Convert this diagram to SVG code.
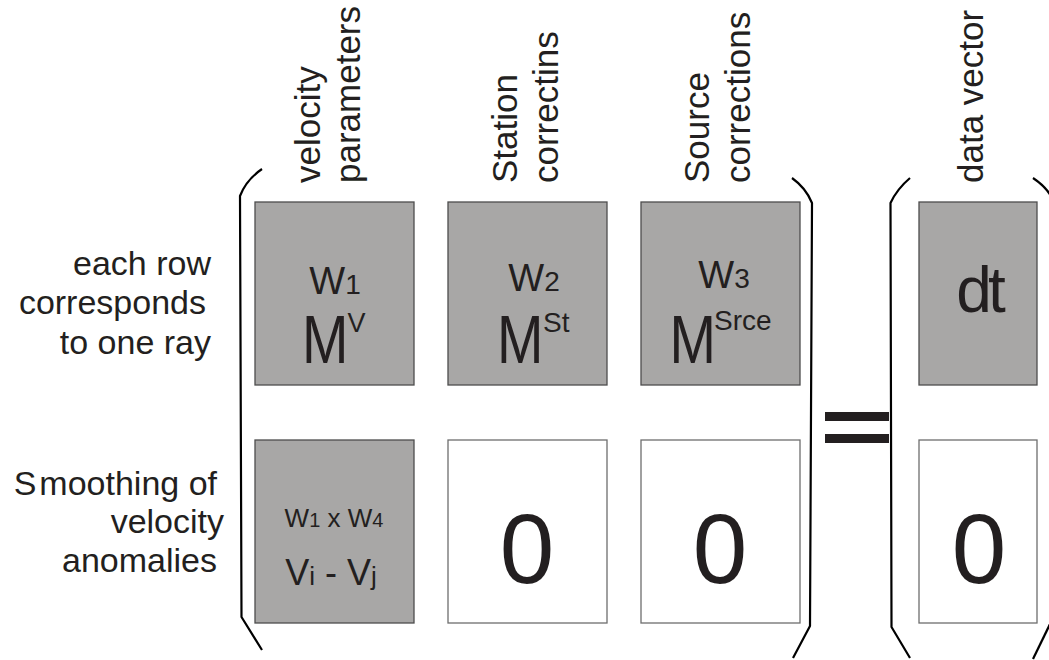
<svg xmlns="http://www.w3.org/2000/svg" width="1049" height="660" viewBox="0 0 1049 660">
  <style>
    .lbl { font-family: "Liberation Sans", Arial, sans-serif; fill: #231f20; }
    .side { font-size: 34px; text-anchor: end; }
    .head { font-size: 35px; }
    .mid { text-anchor: middle; }
    .grey { fill: #a8a7a6; stroke: #4d4d4d; stroke-width: 1.3; }
    .blank { fill: #ffffff; stroke: #6e6e6e; stroke-width: 1.3; }
    .brk { fill: none; stroke: #000000; stroke-width: 2.2; stroke-linejoin: round; }
  </style>
  <rect width="1049" height="660" fill="#ffffff"/>

  <!-- row labels -->
  <g id="row-labels" class="lbl side">
    <text x="211" y="275">each row</text>
    <text x="206" y="314">corresponds</text>
    <text x="211" y="354">to one ray</text>
    <text x="217" y="495">S<tspan dx="3">moothing of</tspan></text>
    <text x="224" y="533">velocity</text>
    <text x="217" y="572">anomalies</text>
  </g>

  <!-- column headings -->
  <g id="col-headings" class="lbl head">
    <text transform="translate(320,183) rotate(-90)">velocity</text>
    <text transform="translate(360,183) rotate(-90)">parameters</text>
    <text transform="translate(517,183) rotate(-90)">Station</text>
    <text transform="translate(558,183) rotate(-90)">correctins</text>
    <text transform="translate(709,183) rotate(-90)">Source</text>
    <text transform="translate(750,183) rotate(-90)">corrections</text>
    <text transform="translate(983,183) rotate(-90)">data vector</text>
  </g>

  <!-- matrix blocks -->
  <g id="block-mv">
    <rect class="grey" x="255" y="202" width="159" height="183"/>
    <text class="lbl mid" x="335" y="294" font-size="38">W<tspan font-size="28">1</tspan></text>
    <text class="lbl" transform="translate(302,363) scale(0.82,1)" font-size="68">M</text>
    <text class="lbl" x="347.5" y="331.5" font-size="27">V</text>
  </g>
  <g id="block-mst">
    <rect class="grey" x="448" y="202" width="159" height="183"/>
    <text class="lbl mid" x="534" y="291" font-size="38">W<tspan font-size="28">2</tspan></text>
    <text class="lbl" transform="translate(497,363) scale(0.82,1)" font-size="68">M</text>
    <text class="lbl" x="543" y="331.5" font-size="28">St</text>
  </g>
  <g id="block-msrce">
    <rect class="grey" x="641" y="202" width="159" height="183"/>
    <text class="lbl mid" x="724" y="288" font-size="38">W<tspan font-size="28">3</tspan></text>
    <text class="lbl" transform="translate(669.5,363) scale(0.82,1)" font-size="68">M</text>
    <text class="lbl" x="714" y="330" font-size="28">Srce</text>
  </g>
  <g id="block-smooth">
    <rect class="grey" x="255" y="440" width="159" height="183"/>
    <text class="lbl mid" x="334" y="527" font-size="26">W<tspan font-size="20">1</tspan> x W<tspan font-size="20">4</tspan></text>
    <text class="lbl mid" x="331" y="585" font-size="36">V<tspan font-size="26">i</tspan> - V<tspan font-size="26">j</tspan></text>
  </g>
  <g id="block-zero-st">
    <rect class="blank" x="448" y="440" width="159" height="183"/>
    <text class="lbl mid" x="527" y="583" font-size="98">0</text>
  </g>
  <g id="block-zero-srce">
    <rect class="blank" x="641" y="440" width="159" height="183"/>
    <text class="lbl mid" x="720" y="583" font-size="98">0</text>
  </g>

  <!-- data vector -->
  <g id="vec-dt">
    <rect class="grey" x="919" y="202" width="118" height="183"/>
    <text class="lbl mid" x="979" y="312" font-size="64" letter-spacing="-4">dt</text>
  </g>
  <g id="vec-zero">
    <rect class="blank" x="919" y="440" width="118" height="183"/>
    <text class="lbl mid" x="979" y="583" font-size="98">0</text>
  </g>

  <!-- equals sign -->
  <g id="equals" fill="#231f20">
    <rect x="825" y="412" width="64" height="9"/>
    <rect x="825" y="434" width="64" height="9"/>
  </g>

  <!-- brackets -->
  <g id="brackets">
    <path class="brk" d="M262,169 Q246,180 240,196 L241.5,617 L262,650"/>
    <path class="brk" d="M792,178 Q806,188 812,203 L810,626 L793,658"/>
    <path class="brk" d="M910,178 Q897,189 890.5,203 L891.5,627 L910,658"/>
    <path class="brk" d="M1033,178 Q1045,186 1051,196"/>
    <path class="brk" d="M1051,622 L1033,659"/>
  </g>
</svg>
